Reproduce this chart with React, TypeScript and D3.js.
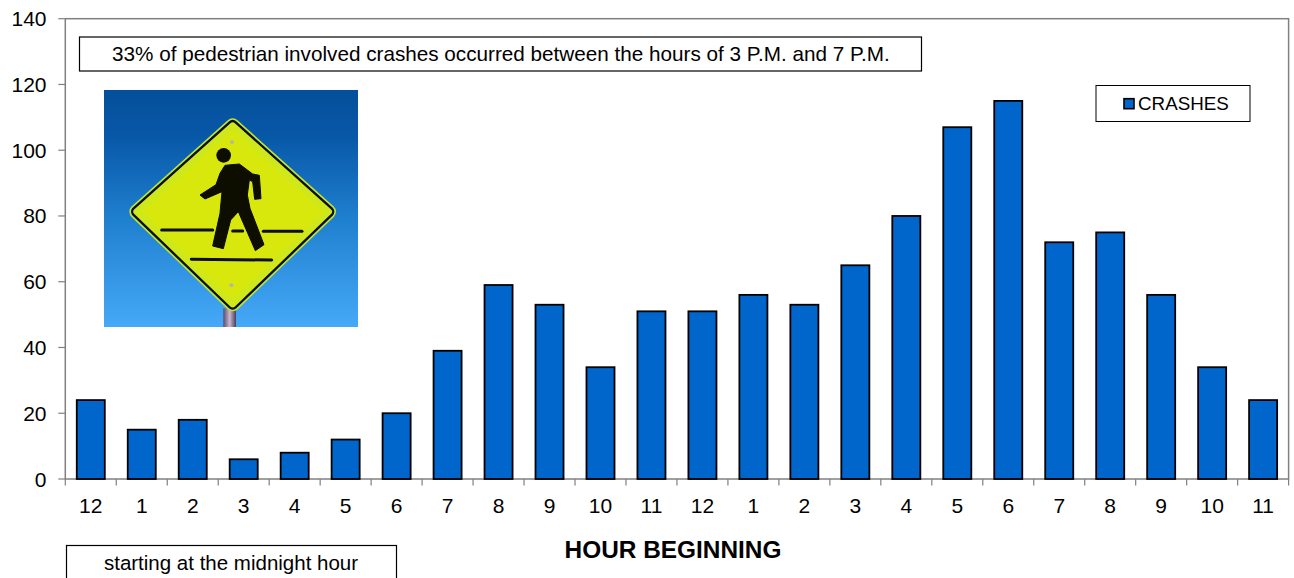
import React from "react";
import * as d3 from "d3";

const categories = ["12","1","2","3","4","5","6","7","8","9","10","11","12","1","2","3","4","5","6","7","8","9","10","11"];
const crashes = [24,15,18,6,8,12,20,39,59,53,34,51,51,56,53,65,80,107,115,72,75,56,34,24];
const yTicks = [0,20,40,60,80,100,120,140];
const seriesName = "CRASHES";
const xTitle = "HOUR BEGINNING";
const noteTop = "33% of pedestrian involved crashes occurred between the hours of 3 P.M. and 7 P.M.";
const noteBottom = "starting at the midnight hour";

const W = 1294, H = 578;
const plot = { l: 65.3, r: 1288.6, t: 18.7, b: 479 };
const FONT = "'Liberation Sans', Arial, sans-serif";

function Sign() {
  const diamond = "M428 137 L716 395 L428 672 L140 395 Z";
  return (
    <g transform="translate(90,80) scale(0.33333)">
      <defs>
        <linearGradient id="sky" x1="0" y1="0" x2="0" y2="1">
          <stop offset="0" stopColor="#044f9b" />
          <stop offset="0.2" stopColor="#0858a8" />
          <stop offset="0.55" stopColor="#2080d0" />
          <stop offset="1" stopColor="#45a9f8" />
        </linearGradient>
        <linearGradient id="pole" x1="0" y1="0" x2="1" y2="0">
          <stop offset="0" stopColor="#5a4a68" />
          <stop offset="0.5" stopColor="#c8b8d0" />
          <stop offset="1" stopColor="#4a3c58" />
        </linearGradient>
        <filter id="soft" x="-5%" y="-5%" width="110%" height="110%">
          <feGaussianBlur stdDeviation="1.6" />
        </filter>
      </defs>
      <rect x={42} y={30} width={762} height={711} fill="url(#sky)" />
      <g filter="url(#soft)">
        <rect x={400} y={685} width={38} height={56} fill="url(#pole)" />
        <path d={diamond} fill="#c4e61a" stroke="#bde53a" strokeWidth={44} strokeLinejoin="round" />
        <path d={diamond} fill="none" stroke="#0c0c06" strokeWidth={34} strokeLinejoin="round" />
        <path d={diamond} fill="#d8e80c" stroke="#cfe81c" strokeWidth={20} strokeLinejoin="round" />
        <circle cx={426} cy={186} r={6} fill="#b8b8a0" />
        <circle cx={424} cy={616} r={6} fill="#b8b8a0" />
        <g stroke="#0c0c06" strokeWidth={9} strokeLinecap="round">
          <line x1={215} y1={450} x2={368} y2={450} />
          <line x1={428} y1={453} x2={458} y2={453} />
          <line x1={520} y1={454} x2={636} y2={454} />
          <line x1={304} y1={538} x2={545} y2={540} />
        </g>
        <ellipse cx={401} cy={226} rx={22} ry={22} fill="#0c0c06" />
        <path d="M405 256 L448 252 L488 282 L508 286 L513 356 L494 358 L488 305 L478 300 L472 345 L480 385 L522 494 L496 512 L445 395 L422 420 L400 506 L368 498 L390 400 L396 335 L345 357 L330 345 L378 314 L390 280 Z" fill="#0c0c06" strokeLinejoin="round" stroke="#0c0c06" strokeWidth={3} />
      </g>
    </g>
  );
}

export default function App() {
  const x = d3.scaleBand<number>().domain(d3.range(categories.length)).range([plot.l, plot.r]).paddingInner(0.45).paddingOuter(0.225);
  const band = (plot.r - plot.l) / categories.length;
  const y = d3.scaleLinear().domain([0, 140]).range([plot.b, plot.t]);
  const txt = { fontFamily: FONT, fill: "#000" };
  return (
    <svg width={W} height={H} style={{ position: "absolute", left: 0, top: 0 }}>
      <rect x={plot.l} y={plot.t} width={plot.r - plot.l} height={plot.b - plot.t} fill="#fff" stroke="#808080" strokeWidth={1.5} />
      {yTicks.map(t => (
        <g key={t}>
          <line x1={plot.l - 7} x2={plot.l} y1={y(t)} y2={y(t)} stroke="#808080" strokeWidth={1.2} />
          <text x={46.5} y={y(t) + 7.5} textAnchor="end" fontSize={21} {...txt}>{t}</text>
        </g>
      ))}
      {d3.range(categories.length + 1).map(i => (
        <line key={i} x1={plot.l + i * band} x2={plot.l + i * band} y1={plot.b} y2={plot.b + 6.5} stroke="#808080" strokeWidth={1.2} />
      ))}
      {crashes.map((v, i) => (
        <rect key={i} x={x(i)} y={y(v)} width={x.bandwidth()} height={plot.b - y(v)} fill="#0066cc" stroke="#000" strokeWidth={1.8} />
      ))}
      {categories.map((c, i) => (
        <text key={i} x={x(i)! + x.bandwidth() / 2} y={513} textAnchor="middle" fontSize={21} {...txt}>{c}</text>
      ))}
      <Sign />
      <rect x={79.5} y={37} width={842} height={34} fill="#fff" stroke="#000" strokeWidth={1.2} />
      <text x={112} y={61} fontSize={20.7} {...txt}>{noteTop}</text>
      <rect x={1096} y={85.5} width={154} height={36} fill="#fff" stroke="#000" strokeWidth={1} />
      <rect x={1124} y={98.7} width={10} height={10} fill="#0066cc" stroke="#000" strokeWidth={1.6} />
      <text x={1138} y={110} fontSize={18.8} {...txt}>{seriesName}</text>
      <text x={673} y={557.5} textAnchor="middle" fontSize={24.4} fontWeight="bold" {...txt}>{xTitle}</text>
      <rect x={66.5} y={545.5} width={330} height={40} fill="#fff" stroke="#000" strokeWidth={1.2} />
      <text x={231} y={570} textAnchor="middle" fontSize={20.5} {...txt}>{noteBottom}</text>
    </svg>
  );
}
